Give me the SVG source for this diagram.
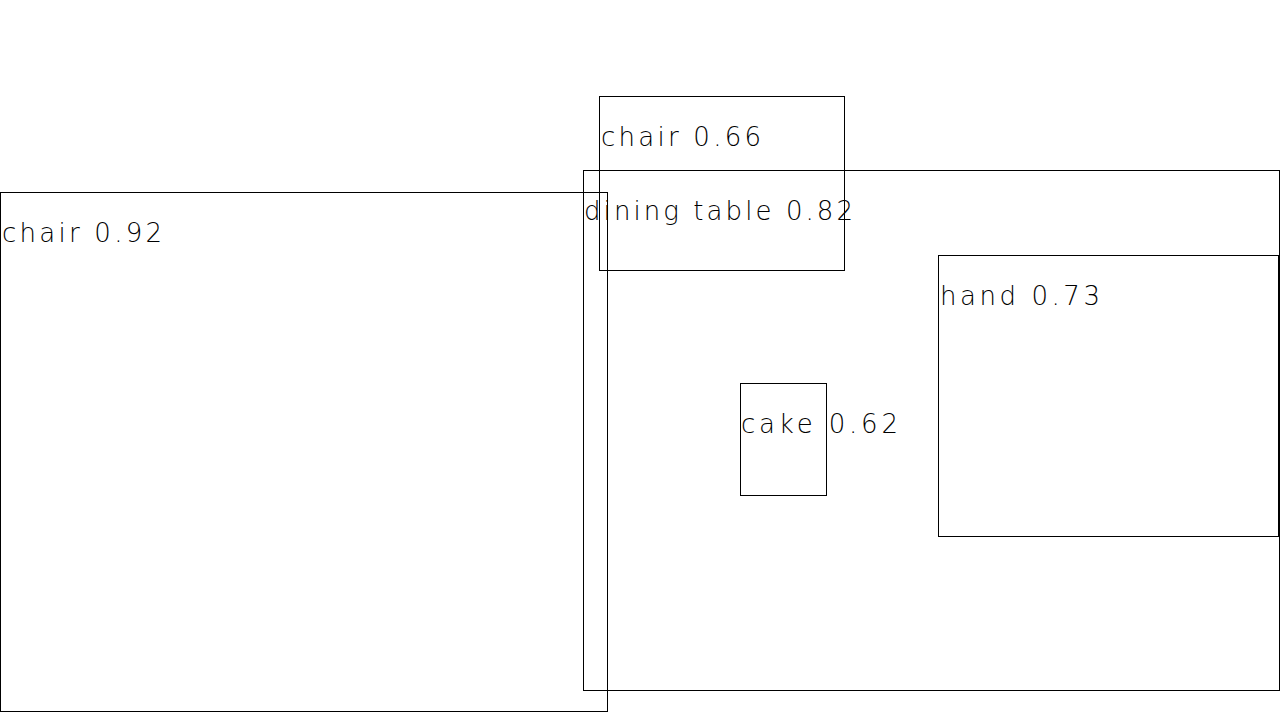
<svg xmlns="http://www.w3.org/2000/svg" width="1280" height="720" viewBox="0 0 1280 720">
<style>
.box{fill:none;stroke:#000;stroke-width:1;shape-rendering:crispEdges}
.lbl{font-family:"DejaVu Sans","Liberation Sans",sans-serif;font-weight:200;font-size:26px;fill:#000}
</style>
<rect width="1280" height="720" fill="#fff"/>
<g id="chair-092">
<rect class="box" x="0.5" y="192.5" width="607" height="519"/>
<text class="lbl" x="2" y="242" textLength="160" lengthAdjust="spacing">chair 0.92</text>
</g>
<g id="dining-table-082">
<rect class="box" x="583.5" y="170.5" width="696" height="520"/>
<text class="lbl" x="584" y="220" textLength="269" lengthAdjust="spacing">dining table 0.82</text>
</g>
<g id="chair-066">
<rect class="box" x="599.5" y="96.5" width="245" height="174"/>
<text class="lbl" x="601" y="146" textLength="160" lengthAdjust="spacing">chair 0.66</text>
</g>
<g id="hand-073">
<rect class="box" x="938.5" y="255.5" width="340" height="281"/>
<text class="lbl" x="940" y="305" textLength="160" lengthAdjust="spacing">hand 0.73</text>
</g>
<g id="cake-062">
<rect class="box" x="740.5" y="383.5" width="86" height="112"/>
<text class="lbl" x="741" y="433" textLength="157" lengthAdjust="spacing">cake 0.62</text>
</g>
<g id="connectors"/>
</svg>
